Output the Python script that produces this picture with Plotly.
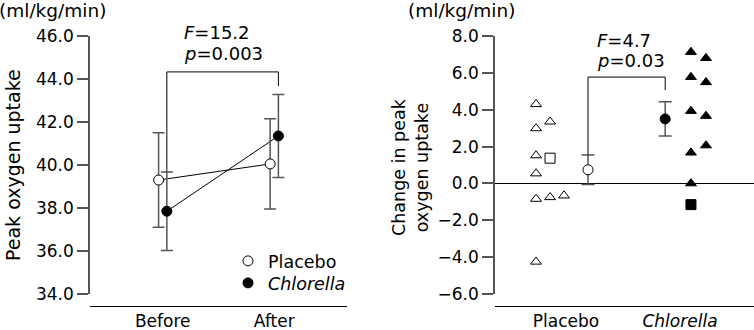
import plotly.graph_objects as go

# ---------------- data ----------------
# Left panel: group means and SD (ml/kg/min)
time_labels = ["Before", "After"]
placebo_mean = [39.3, 40.05]
placebo_err = [2.2, 2.1]
chlorella_mean = [37.85, 41.35]
chlorella_err = [1.83, 1.93]
left_stats = ["<i>F</i>=15.2", "<i>p</i>=0.003"]

# Right panel: individual changes (ml/kg/min)
group_labels = ["Placebo", "<i>Chlorella</i>"]
placebo_tri = [4.30, 2.99, 3.35, 1.52, 0.54, -0.84, -0.75, -0.66, -4.25]
placebo_tri_col = [0, 0, 1, 0, 0, 0, 1, 2, 0]
placebo_sq = [1.37]
placebo_sq_col = [1]
chlorella_tri = [7.13, 6.80, 5.77, 5.49, 3.93, 3.66, 1.67, 2.06, 0.0]
chlorella_tri_col = [0, 1, 0, 1, 0, 1, 0, 1, 0]
chlorella_sq = [-1.15]
chlorella_sq_col = [0]
change_mean = [0.74, 3.5]
change_err = [0.8, 0.93]
right_stats = ["<i>F</i>=4.7", "<i>p</i>=0.03"]

# ---------------- layout helpers ----------------
W, H = 754, 330
FONT = "DejaVu Sans"
FS = 17


def px(x):
    return x / W


def py(y):
    return 1 - y / H


pair_off = 0.037            # offset of Placebo/Chlorella in left panel
plc_cols = [-0.263, -0.14, -0.018]
chl_cols = [0.096, 0.228]
mean_off = [0.193, -0.13]

fig = go.Figure()

# ---- left panel ----
px_before = [i - pair_off for i in range(len(time_labels))]
cx = [i + pair_off for i in range(len(time_labels))]
fig.add_trace(go.Scatter(x=px_before, y=placebo_mean, mode="lines",
                         line=dict(color="black", width=1), showlegend=False,
                         xaxis="x", yaxis="y"))
fig.add_trace(go.Scatter(x=cx, y=chlorella_mean, mode="lines",
                         line=dict(color="black", width=1), showlegend=False,
                         xaxis="x", yaxis="y"))
fig.add_trace(go.Scatter(x=px_before, y=placebo_mean, mode="markers", name="Placebo",
                         legend="legend",
                         marker=dict(symbol="circle", size=10, color="white",
                                     line=dict(color="black", width=1)),
                         error_y=dict(type="data", array=placebo_err, color="#555",
                                      thickness=1.5, width=6),
                         xaxis="x", yaxis="y"))
fig.add_trace(go.Scatter(x=cx, y=chlorella_mean, mode="markers", name="<i>Chlorella</i>",
                         legend="legend2",
                         marker=dict(symbol="circle", size=10, color="black",
                                     line=dict(color="black", width=1)),
                         error_y=dict(type="data", array=chlorella_err, color="#555",
                                      thickness=1.5, width=6),
                         xaxis="x", yaxis="y"))

# ---- right panel ----
fig.add_trace(go.Scatter(x=[plc_cols[c] for c in placebo_tri_col], y=placebo_tri,
                         mode="markers", showlegend=False,
                         marker=dict(symbol="triangle-up", size=9.5, color="white",
                                     line=dict(color="black", width=1)),
                         xaxis="x2", yaxis="y2"))
fig.add_trace(go.Scatter(x=[plc_cols[c] for c in placebo_sq_col], y=placebo_sq,
                         mode="markers", showlegend=False,
                         marker=dict(symbol="square", size=10, color="white",
                                     line=dict(color="black", width=1)),
                         xaxis="x2", yaxis="y2"))
fig.add_trace(go.Scatter(x=[1 + chl_cols[c] for c in chlorella_tri_col], y=chlorella_tri,
                         mode="markers", showlegend=False,
                         marker=dict(symbol="triangle-up", size=9.5, color="black",
                                     line=dict(color="black", width=1)),
                         xaxis="x2", yaxis="y2"))
fig.add_trace(go.Scatter(x=[1 + chl_cols[c] for c in chlorella_sq_col], y=chlorella_sq,
                         mode="markers", showlegend=False,
                         marker=dict(symbol="square", size=10, color="black",
                                     line=dict(color="black", width=1)),
                         xaxis="x2", yaxis="y2"))
fig.add_trace(go.Scatter(x=[i + mean_off[i] for i in range(2)], y=change_mean,
                         mode="markers", showlegend=False,
                         marker=dict(symbol="circle", size=10, color=["white", "black"],
                                     line=dict(color="black", width=1)),
                         error_y=dict(type="data", array=change_err, color="#555",
                                      thickness=1.5, width=6.5),
                         xaxis="x2", yaxis="y2"))

# ---- significance brackets ----
line_k = dict(color="black", width=1)
lb_top = 44.33
lb_right_end = 43.67
shapes = [
    dict(type="line", xref="x", yref="y", x0=cx[0], x1=cx[0],
         y0=chlorella_mean[0] + chlorella_err[0], y1=lb_top, line=line_k),
    dict(type="line", xref="x", yref="y", x0=cx[0], x1=cx[1], y0=lb_top, y1=lb_top, line=line_k),
    dict(type="line", xref="x", yref="y", x0=cx[1], x1=cx[1], y0=lb_top, y1=lb_right_end, line=line_k),
]
rb_top = 5.77
rb_right_end = 5.06
m0 = 0 + mean_off[0]
m1 = 1 + mean_off[1]
shapes += [
    dict(type="line", xref="x2", yref="y2", x0=m0, x1=m0,
         y0=change_mean[0] + change_err[0], y1=rb_top, line=line_k),
    dict(type="line", xref="x2", yref="y2", x0=m0, x1=m1, y0=rb_top, y1=rb_top, line=line_k),
    dict(type="line", xref="x2", yref="y2", x0=m1, x1=m1, y0=rb_top, y1=rb_right_end, line=line_k),
]

font = dict(family=FONT, size=FS, color="black")
f_stat = dict(family=FONT, size=18, color="black")
f_unit = dict(family=FONT, size=18.5, color="black")
f_ltitle = dict(family=FONT, size=19, color="black")
f_rtitle = dict(family=FONT, size=17.5, color="black")
ann = []
ann.append(dict(x=px(182), y=py(33), xref="paper", yref="paper", text=left_stats[0],
                showarrow=False, xanchor="left", yanchor="middle", font=f_stat))
ann.append(dict(x=px(182), y=py(53), xref="paper", yref="paper", text=left_stats[1],
                showarrow=False, xanchor="left", yanchor="middle", font=f_stat))
ann.append(dict(x=px(595), y=py(40), xref="paper", yref="paper", text=right_stats[0],
                showarrow=False, xanchor="left", yanchor="middle", font=f_stat))
ann.append(dict(x=px(595), y=py(60), xref="paper", yref="paper", text=right_stats[1],
                showarrow=False, xanchor="left", yanchor="middle", font=f_stat))
ann.append(dict(x=px(-3), y=py(11), xref="paper", yref="paper", text="(ml/kg/min)",
                showarrow=False, xanchor="left", yanchor="middle", font=f_unit))
ann.append(dict(x=px(406), y=py(11), xref="paper", yref="paper", text="(ml/kg/min)",
                showarrow=False, xanchor="left", yanchor="middle", font=f_unit))
ann.append(dict(x=px(13), y=py(165), xref="paper", yref="paper", text="Peak oxygen uptake",
                showarrow=False, textangle=-90, xanchor="center", yanchor="middle", font=f_ltitle))
ann.append(dict(x=px(410), y=py(167), xref="paper", yref="paper",
                text="Change in peak<br>oxygen uptake",
                showarrow=False, textangle=-90, xanchor="center", yanchor="middle", font=f_rtitle))

ydom = [py(294), py(36)]
common_y = dict(showline=True, linecolor="#555", linewidth=1.5, ticks="outside", ticklen=11,
                tickcolor="#555", tickwidth=1.5, showgrid=False, tickformat=".1f",
                tickfont=font, domain=ydom, automargin=False)
common_x = dict(showline=True, linecolor="black", linewidth=1, showgrid=False, zeroline=False,
                ticks="", tickfont=font,
                anchor="free", position=py(306), automargin=False)
leg = dict(xanchor="left", yanchor="top", font=dict(family=FONT, size=17.5, color="black"),
           bgcolor="rgba(0,0,0,0)", tracegroupgap=0, itemwidth=30)

fig.update_layout(
    template="none",
    width=W, height=H, margin=dict(l=0, r=0, t=0, b=0, pad=0, autoexpand=False),
    paper_bgcolor="white", plot_bgcolor="white",
    font=font,
    xaxis=dict(domain=[px(90), px(347)], range=[-0.652, 1.652], tickvals=[0, 1],
               ticktext=time_labels, **common_x),
    yaxis=dict(range=[34, 46], tickvals=[34, 36, 38, 40, 42, 44, 46], anchor="x",
               zeroline=False, **common_y),
    xaxis2=dict(domain=[px(495), 1], range=[-0.623, 1.649], tickvals=[0, 1],
                ticktext=group_labels, **common_x),
    yaxis2=dict(range=[-6, 8], tickvals=[-6, -4, -2, 0, 2, 4, 6, 8], anchor="x2",
                zeroline=True, zerolinecolor="black", zerolinewidth=1, **common_y),
    showlegend=True,
    legend=dict(x=px(228), y=py(243), **leg),
    legend2=dict(x=px(228), y=py(265), **leg),
    shapes=shapes, annotations=ann,
)

fig.write_html("out.html", config={"displayModeBar": False},
               post_script="document.body.style.margin='0';")
